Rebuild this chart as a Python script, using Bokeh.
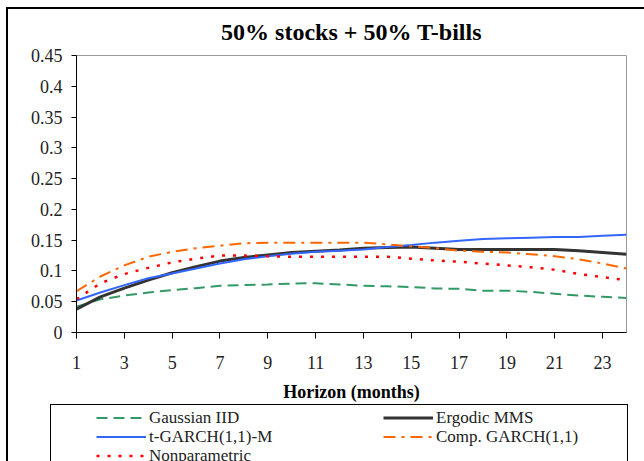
from bokeh.plotting import figure
from bokeh.layouts import column
from bokeh.models import (Range1d, FixedTicker, CustomJSTickFormatter, Legend,
                          LegendItem, Title)
from bokeh.embed import file_html
from bokeh.resources import INLINE

months = list(range(1, 25))
gaussian_iid = [0.042, 0.054, 0.060, 0.065, 0.069, 0.072, 0.076, 0.077, 0.078, 0.0795,
                0.080, 0.078, 0.076, 0.075, 0.074, 0.0715, 0.071, 0.068, 0.068, 0.066,
                0.063, 0.060, 0.058, 0.056]
ergodic_mms = [0.038, 0.058, 0.072, 0.085, 0.097, 0.107, 0.116, 0.122, 0.126, 0.130,
               0.132, 0.134, 0.137, 0.138, 0.139, 0.137, 0.135, 0.135, 0.135, 0.135,
               0.135, 0.133, 0.130, 0.127]
t_garch = [0.052, 0.065, 0.077, 0.088, 0.096, 0.104, 0.112, 0.119, 0.124, 0.128,
           0.131, 0.133, 0.135, 0.139, 0.142, 0.146, 0.149, 0.152, 0.153, 0.154,
           0.155, 0.155, 0.157, 0.159]
comp_garch = [0.067, 0.091, 0.109, 0.123, 0.131, 0.137, 0.141, 0.145, 0.146, 0.146,
              0.146, 0.146, 0.146, 0.143, 0.140, 0.137, 0.133, 0.131, 0.130, 0.127,
              0.124, 0.119, 0.112, 0.104]
nonparametric = [0.054, 0.080, 0.095, 0.105, 0.114, 0.120, 0.125, 0.125, 0.124, 0.123,
                 0.123, 0.123, 0.123, 0.123, 0.120, 0.117, 0.115, 0.112, 0.109, 0.106,
                 0.102, 0.095, 0.090, 0.085]
x_ticks = [1, 3, 5, 7, 9, 11, 13, 15, 17, 19, 21, 23]
y_ticks = [0, 0.05, 0.1, 0.15, 0.2, 0.25, 0.3, 0.35, 0.4, 0.45]

title_text = "50% stocks + 50% T-bills"
x_title = "Horizon (months)"
names = ["Gaussian IID", "Ergodic MMS", "t-GARCH(1,1)-M", "Comp. GARCH(1,1)", "Nonparametric"]
series = [gaussian_iid, ergodic_mms, t_garch, comp_garch, nonparametric]
styles = [
    dict(line_color="#339966", line_width=2, line_dash="11 6"),
    dict(line_color="#333333", line_width=3),
    dict(line_color="#3366FF", line_width=2),
    dict(line_color="#FF6600", line_width=2, line_dash="12 6 3 6"),
    dict(line_color="#FF0000", line_width=2.5, line_dash="3 8"),
]

FONT = "Liberation Serif"
OX, OY = 8, 9            # page offset of content (inside outer border)
CW = 644 - OX            # content width
H1 = 404 - OY            # chart figure height
H2 = 461 - 404           # legend strip height

# ---------------- chart ----------------
p = figure(width=CW, height=H1, x_range=Range1d(1, 24), y_range=Range1d(0, 0.45),
           output_backend="svg", toolbar_location=None,
           min_border_left=76 - OX, min_border_right=CW - (626 - OX),
           min_border_top=54 - OY, min_border_bottom=H1 - (333 - OY))
p.title = Title(text=title_text, align="center", text_font=FONT,
                text_font_style="bold", text_font_size="24px", text_color="black",
                vertical_align="top", standoff=18)
p.background_fill_color = "white"
p.border_fill_color = "white"
p.outline_line_color = "#999999"
p.xgrid.visible = False
p.ygrid.visible = False

p.xaxis.ticker = FixedTicker(ticks=x_ticks)
p.yaxis.ticker = FixedTicker(ticks=y_ticks)
p.yaxis.formatter = CustomJSTickFormatter(code="return String(Number(tick.toFixed(2)));")
p.axis.axis_line_color = "black"
p.axis.major_tick_line_color = "black"
p.axis.major_tick_in = 0
p.axis.minor_tick_line_color = None
p.axis.major_label_text_color = "#222222"
p.axis.major_label_text_font = FONT
p.axis.major_label_text_font_size = "18px"
p.xaxis.major_tick_out = 6
p.yaxis.major_tick_out = 5
p.xaxis.major_label_standoff = 17
p.yaxis.major_label_standoff = 9
p.xaxis.axis_label = x_title
p.xaxis.axis_label_text_font = FONT
p.xaxis.axis_label_text_font_style = "bold"
p.xaxis.axis_label_text_font_size = "18px"
p.xaxis.axis_label_text_color = "black"
p.xaxis.axis_label_standoff = 10

for ys, st in zip(series, styles):
    p.line(months, ys, **st)

# ---------------- legend strip ----------------
q = figure(width=CW, height=H2, x_range=Range1d(1, 24), y_range=Range1d(10, 11),
           output_backend="svg", toolbar_location=None,
           x_axis_type=None, y_axis_type=None,
           min_border_left=76 - OX, min_border_right=CW - (626 - OX),
           min_border_top=0, min_border_bottom=0)
q.outline_line_color = None
q.background_fill_alpha = 0
q.border_fill_alpha = 0
q.xgrid.visible = False
q.ygrid.visible = False

# the same series, drawn outside the strip's visible range; only their legend glyphs show
legend_renderers = [q.line(months, ys, **st) for ys, st in zip(series, styles)]
rows = [[0, 1], [2, 3], [4]]
row_centers = [418, 437, 456]       # page y of each legend row
ROW_H = 19
for idx, c in zip(rows, row_centers):
    lg = Legend(items=[LegendItem(label=names[i], renderers=[legend_renderers[i]]) for i in idx],
                location=(96 - 76, 461 - (c + ROW_H / 2)), orientation="horizontal",
                padding=0, margin=0, spacing=0, glyph_width=50, glyph_height=15,
                label_height=15, label_width=234, label_standoff=3,
                border_line_alpha=0, background_fill_alpha=0,
                label_text_font=FONT, label_text_font_size="17px",
                label_text_color="#222222")
    q.add_layout(lg)

# legend box (left, top, right edges) drawn as the layout's background, and the outer frame
BX0, BX1, BY0 = 50 - OX, 627 - OX, 404 - OY
box_css = {
    "border-left": "2px solid black",
    "border-top": "2px solid black",
    "background-image": "linear-gradient(#000,#000), linear-gradient(#000,#000), linear-gradient(#000,#000)",
    "background-repeat": "no-repeat",
    "background-position": f"{BX0}px {BY0}px, {BX0}px {BY0}px, {BX1}px {BY0}px",
    "background-size": f"{BX1 - BX0 + 1}px 1px, 1px 80px, 1px 80px",
}
layout = column(p, q, spacing=0, margin=(7, 0, 0, 6), styles=box_css)

open("out.html", "w").write(file_html(layout, INLINE))
